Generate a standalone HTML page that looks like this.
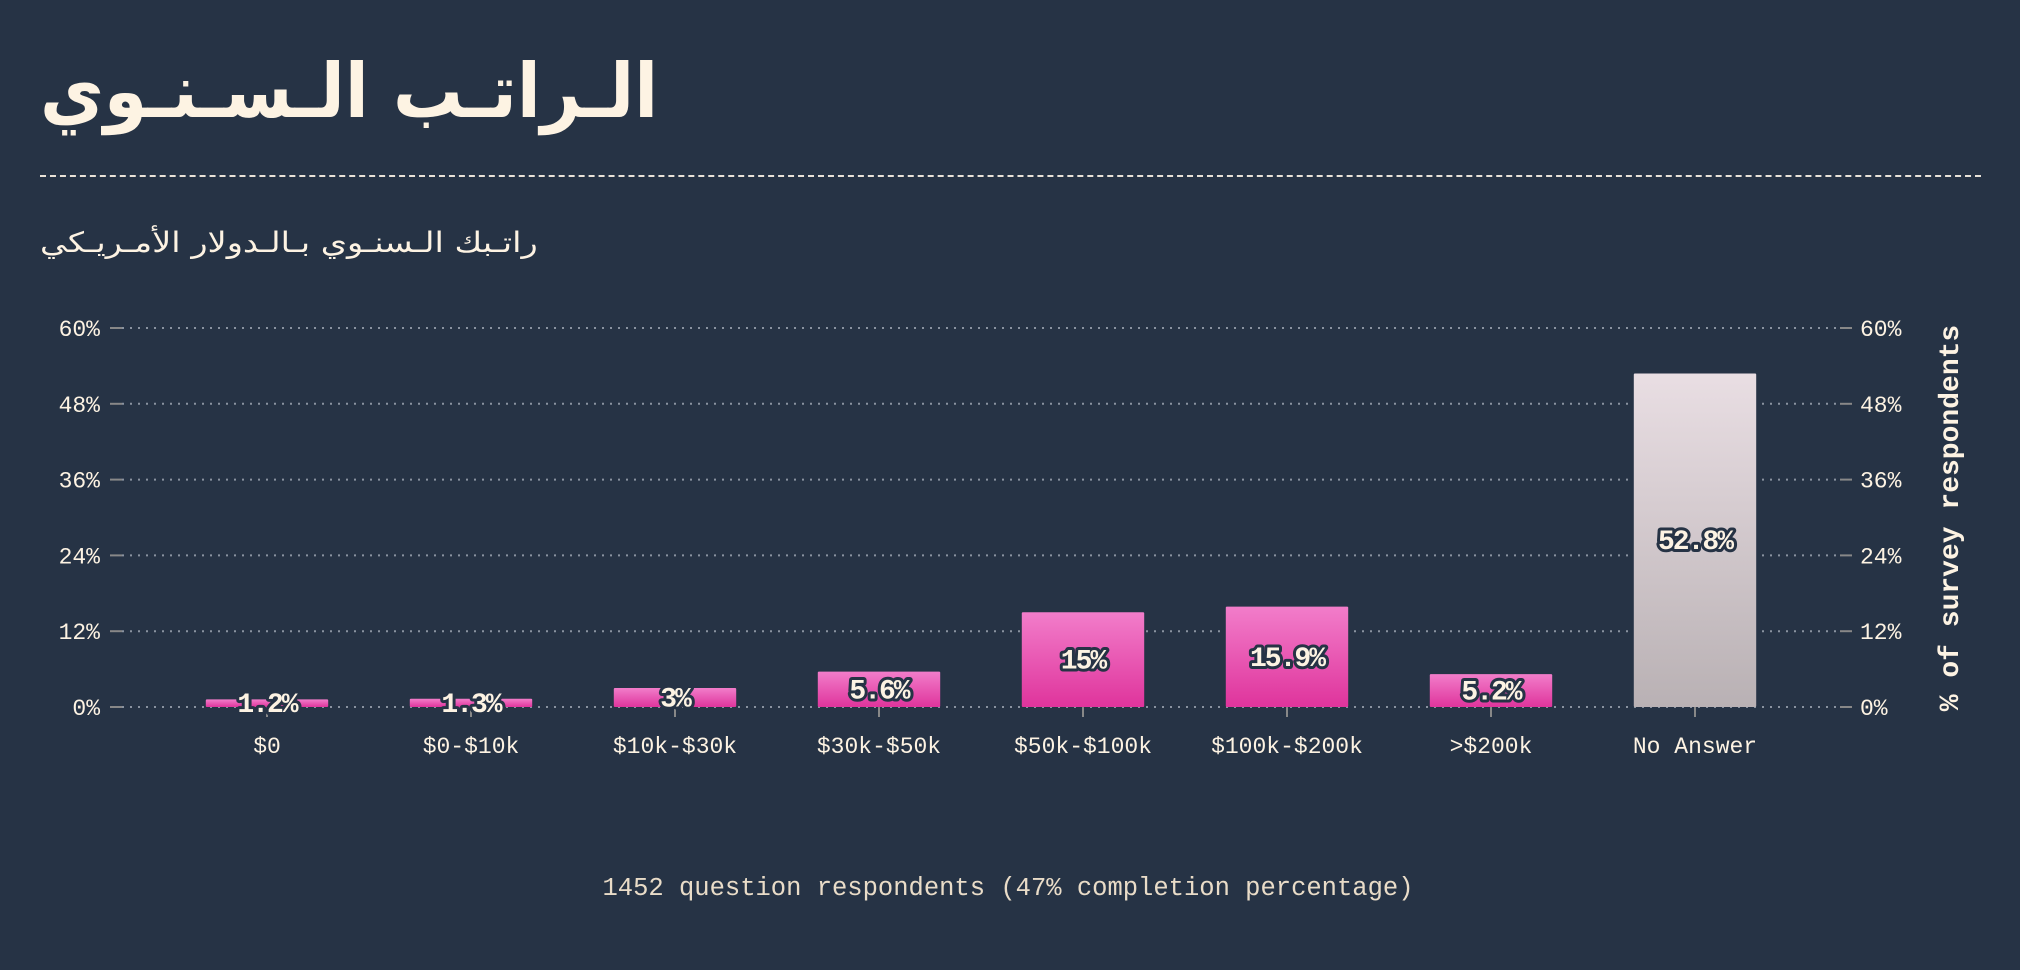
<!DOCTYPE html>
<html><head><meta charset="utf-8">
<style>
html,body{margin:0;padding:0;background:#263345;}
body{width:2020px;height:970px;overflow:hidden;position:relative;font-family:"Liberation Mono","DejaVu Sans Mono",monospace;color:#fdf3e3;}
#title{position:absolute;left:40px;top:46px;font-family:"DejaVu Sans","Noto Sans CJK SC",sans-serif;font-weight:bold;font-size:75px;line-height:1.2;letter-spacing:6px;direction:rtl;color:#fdf3e3;white-space:nowrap;transform:scaleX(0.93);transform-origin:left top;}
#rule{position:absolute;left:40px;top:175px;width:1941px;border-top:2px dashed #e8e2d8;}
#subtitle{position:absolute;left:40px;top:226px;font-family:"DejaVu Sans",sans-serif;font-size:28px;direction:rtl;color:#fdf3e3;white-space:nowrap;transform:scaleX(1.2);transform-origin:left top;}
#footer{position:absolute;left:0;width:2016px;top:874px;text-align:center;font-size:25.5px;color:#e9dcc8;}
svg{position:absolute;left:0;top:0;}
</style></head>
<body>
<div id="title">الـراتـب الـسـنـوي</div>
<div id="rule"></div>
<div id="subtitle">راتـبك الـسنـوي بـالـدولار الأمـريـكي</div>
<svg id="chart" width="2020" height="970">
<defs>
<linearGradient id="pink" x1="0" y1="0" x2="0" y2="1"><stop offset="0" stop-color="#f27dca"/><stop offset="1" stop-color="#df349c"/></linearGradient>
<linearGradient id="grey" x1="0" y1="0" x2="0" y2="1"><stop offset="0" stop-color="#e9dee3"/><stop offset="1" stop-color="#b9b1b4"/></linearGradient>
</defs>
</svg>
<div id="footer">1452 question respondents (47% completion percentage)</div>
<script>
const categories = ["$0","$0-$10k","$10k-$30k","$30k-$50k","$50k-$100k","$100k-$200k",">$200k","No Answer"];
const values = [1.2,1.3,3,5.6,15,15.9,5.2,52.8];
const valueLabels = ["1.2%","1.3%","3%","5.6%","15%","15.9%","5.2%","52.8%"];
const yTicks = [0,12,24,36,48,60];
const yTickLabels = ["0%","12%","24%","36%","48%","60%"];

const NS="http://www.w3.org/2000/svg";
const svg=document.getElementById('chart');
const x0=122,x1=1840,y0=707,y1=328,yMax=60;
const step=(x1-x0-86)/categories.length;
const bw=step*0.6;
function y(v){return y0-(v/yMax)*(y0-y1);}
function xc(i){return x0+43+step*i+step/2;}
function mk(tag,attrs,parent){const e=document.createElementNS(NS,tag);for(const k in attrs)e.setAttribute(k,attrs[k]);(parent||svg).appendChild(e);return e;}

yTicks.forEach((t,i)=>{
  const g=mk('line',{x1:x0,x2:x1,y1:y(t),y2:y(t),stroke:'#8a93a0','stroke-width':2,'stroke-dasharray':'2 6'});
  
  
  mk('line',{x1:110,x2:122,y1:y(t),y2:y(t),stroke:'#888','stroke-width':2});
  mk('line',{x1:1840,x2:1852,y1:y(t),y2:y(t),stroke:'#888','stroke-width':2});
  const l=mk('text',{x:100,y:y(t)+8,'text-anchor':'end','font-size':23,fill:'#fdf3e3','font-family':'Liberation Mono, monospace'});
  l.textContent=yTickLabels[i];
  
  
  const r=mk('text',{x:1860,y:y(t)+8,'text-anchor':'start','font-size':23,fill:'#fdf3e3','font-family':'Liberation Mono, monospace'});
  r.textContent=yTickLabels[i];
  
  
});

categories.forEach((c,i)=>{
  const cx=xc(i);
  const b=mk('rect',{x:cx-bw/2,y:y(values[i]),width:bw,height:y0-y(values[i]),fill:i===categories.length-1?'url(#grey)':'url(#pink)',rx:1});
  
  
  mk('line',{x1:cx,x2:cx,y1:y0,y2:y0+10,stroke:'#888','stroke-width':2});
  const t=mk('text',{x:cx,y:753,'text-anchor':'middle','font-size':23,fill:'#fdf3e3','font-family':'Liberation Mono, monospace'});
  t.textContent=c;
  
  
  const ym=(y(values[i])+y0)/2;
  const v=mk('text',{x:cx,y:ym+9,'text-anchor':'middle','font-size':28,'font-weight':'bold',fill:'#fdf3e3',stroke:'#263345','stroke-width':6,'paint-order':'stroke','stroke-linejoin':'round','font-family':'Liberation Mono, monospace','letter-spacing':'-2'});
  v.textContent=valueLabels[i];
  
  
});

const at=mk('text',{x:0,y:0,transform:'translate(1958,518) rotate(-90)','text-anchor':'middle','font-size':28,'font-weight':'bold',fill:'#fdf3e3','font-family':'Liberation Mono, monospace'});
at.textContent='% of survey respondents';


</script>
</body></html>
